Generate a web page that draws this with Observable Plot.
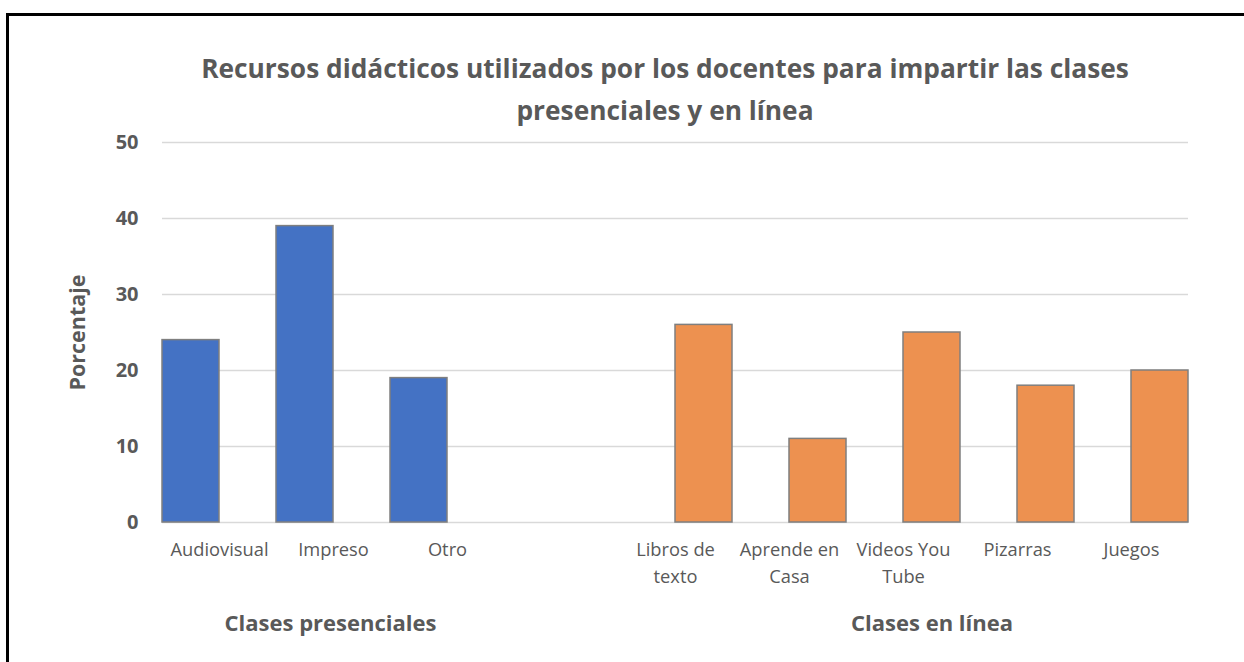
<!DOCTYPE html>
<html>
<head>
<meta charset="utf-8">
<script src="https://cdn.jsdelivr.net/npm/d3@7"></script>
<script src="https://cdn.jsdelivr.net/npm/@observablehq/plot@0.6"></script>
<style>
  html { overflow: hidden; }
  html, body { margin: 0; padding: 0; background: #fff; }
  body { width: 1244px; height: 662px; overflow: hidden; position: relative; font-family: "Open Sans", Lato, sans-serif; }
  .edge { position: absolute; background: #000; }
  #edgeTop { left: 6px; top: 13px; width: 1260px; height: 3px; }
  #edgeLeft { left: 6px; top: 13px; width: 3px; height: 660px; }
  #title { position: absolute; left: 150px; width: 1030px; top: 47px; text-align: center; font-weight: 700; font-size: 26.3px; line-height: 42px; color: #595959; }
  #chart { position: absolute; left: 0; top: 125px; }
</style>
</head>
<body>
<div class="edge" id="edgeTop"></div>
<div class="edge" id="edgeLeft"></div>
<div id="title">Recursos didácticos utilizados por los docentes para impartir las clases<br>presenciales y en línea</div>
<div id="chart"></div>
<script>
// ---- data ----
const groups = ["Clases presenciales", "Clases en línea"];
const presencialCategories = ["Audiovisual", "Impreso", "Otro"];
const presencialValues = [24, 39, 19];
const enLineaCategories = ["Libros de texto", "Aprende en Casa", "Videos You Tube", "Pizarras", "Juegos"];
const enLineaValues = [26, 11, 25, 18, 20];
const gapCategory = " ";
const yTicks = [0, 10, 20, 30, 40, 50];
const groupColors = ["#4472C4", "#ED9150"];
const yLabel = "Porcentaje";

// ---- tables built from the arrays ----
const rows = [
  ...presencialCategories.map((c, i) => ({category: c, group: groups[0], value: presencialValues[i]})),
  ...enLineaCategories.map((c, i) => ({category: c, group: groups[1], value: enLineaValues[i]}))
];
const fxDomain = [...presencialCategories, gapCategory, ...enLineaCategories];
const groupLabelA = [{label: groups[0], category: presencialCategories[Math.floor(presencialCategories.length / 2)]}];
const groupLabelB = [{label: groups[1], category: enLineaCategories[Math.floor(enLineaCategories.length / 2)]}];

const textColor = "#595959";
const gridStyle = {stroke: "#D9D9D9", strokeOpacity: 1, strokeWidth: 1.5};

const chart = Plot.plot({
  width: 1244,
  height: 520,
  marginLeft: 162,
  marginRight: 56,
  marginTop: 17,
  marginBottom: 123,
  style: {fontFamily: "'Open Sans', Lato, sans-serif", fontSize: "18px", color: textColor, background: "transparent", overflow: "visible"},
  fx: {domain: fxDomain, padding: 0, label: null},
  x: {domain: groups, padding: 0, axis: null},
  y: {domain: [0, 50]},
  color: {domain: groups, range: groupColors},
  marks: [
    Plot.gridY(yTicks, gridStyle),
    Plot.gridY(yTicks, {...gridStyle, facetAnchor: "empty"}),
    Plot.axisY(yTicks, {facetAnchor: "left", tickSize: 0, tickPadding: 24, fontWeight: "bold", fontSize: 20, label: null}),
    Plot.axisY([], {facetAnchor: "left", tickSize: 0, fontWeight: "bold", fontSize: 21.5, dy: -6,
      label: yLabel, labelAnchor: "center", labelArrow: false, labelOffset: 93}),
    Plot.axisFx({anchor: "bottom", tickSize: 0, tickPadding: 15, lineWidth: 6.3, lineHeight: 1.44, fontSize: 18.3, label: null}),
    Plot.barY(rows, {fx: "category", x: "group", y: "value", fill: "group", stroke: "#7F7F7F", strokeWidth: 1.5}),
    Plot.text(groupLabelA, {fx: "category", text: "label", frameAnchor: "bottom", dy: 101, dx: -3, fontWeight: "bold", fontSize: 22, lineAnchor: "middle", fill: textColor}),
    Plot.text(groupLabelB, {fx: "category", x: "label", text: "label", frameAnchor: "bottom", dy: 101, fontWeight: "bold", fontSize: 22, lineAnchor: "middle", fill: textColor})
  ]
});
document.getElementById("chart").appendChild(chart);
</script>
</body>
</html>
